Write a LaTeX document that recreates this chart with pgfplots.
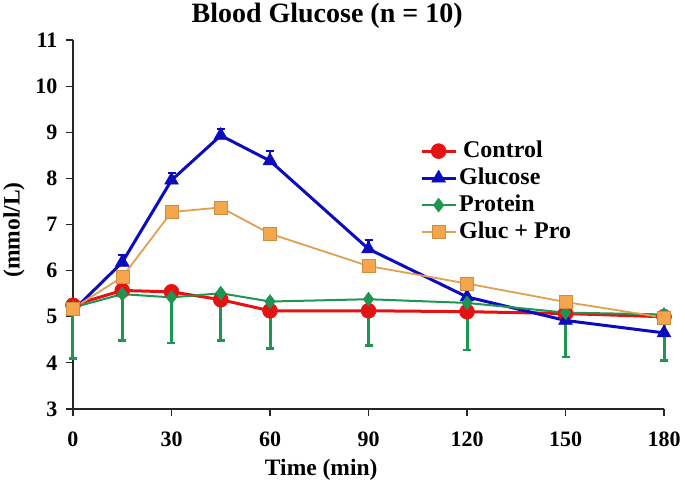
\documentclass[border=0pt]{standalone}
\usepackage{fontspec}
\setmainfont{Liberation Serif}
\usepackage{pgfplots}
\pgfplotsset{compat=1.18}
\usepackage{pgfplotstable}

\definecolor{ctrlred}{RGB}{228,18,18}
\definecolor{glublue}{RGB}{12,12,190}
\definecolor{protgreen}{RGB}{30,150,82}
\definecolor{mixorange}{RGB}{245,165,75}
\definecolor{mixline}{RGB}{225,160,80}

% time (min), mean (mmol/L), error
\pgfplotstableread{
x y
0 5.25
15 5.57
30 5.54
45 5.37
60 5.13
90 5.13
120 5.11
150 5.07
180 5.00
}\control
\pgfplotstableread{
x y ep
0 5.13 0
15 6.18 0.15
30 7.96 0.16
45 8.93 0.15
60 8.38 0.22
90 6.47 0.20
120 5.43 0
150 4.92 0
180 4.65 0
}\glucose
\pgfplotstableread{
x y em
0 5.20 1.10
15 5.49 1.00
30 5.42 0.99
45 5.51 1.02
60 5.33 1.02
90 5.38 1.00
120 5.30 1.02
150 5.09 0.96
180 5.05 1.00
}\protein
\pgfplotstableread{
x y
0 5.18
15 5.86
30 7.27
45 7.37
60 6.80
90 6.10
120 5.72
150 5.32
180 4.98
}\glucpro

\begin{document}
\begin{tikzpicture}
\begin{axis}[
    scale only axis,
    width=591pt, height=369pt,
    xmin=0, xmax=180, ymin=3, ymax=11,
    xtick={0,30,...,180},
    ytick={3,4,...,11},
    axis lines=left,
    axis line style={-, line width=1.2pt, black!85},
    tick style={line width=1.2pt, black!85},
    major tick length=7pt,
    tick align=outside,
    clip=false,
    /pgf/number format/assume math mode=true,
    tick label style={font=\fontsize{22}{22}\selectfont\bfseries},
    every x tick label/.append style={yshift=-12pt},
    every y tick label/.append style={xshift=-5pt},
    title={Blood Glucose (n = 10)},
    title style={font=\fontsize{28}{28}\selectfont\bfseries,
        at={(axis description cs:0.43,1.03)}, anchor=base},
    xlabel={Time (min)},
    xlabel style={font=\fontsize{23.5}{24}\selectfont\bfseries,
        at={(axis description cs:0.42,-0.179)}, anchor=base},
    ylabel={(mmol/L)},
    ylabel style={font=\fontsize{23.5}{24}\selectfont\bfseries,
        at={(axis description cs:-0.1,0.485)}, anchor=center, rotate=0},
    legend style={draw=none, fill=none, inner sep=0pt,
        at={(axis description cs:0.587,0.736)}, anchor=north west,
        font=\fontsize{24}{24}\selectfont\bfseries,
        nodes={text height=17.5pt, text depth=5.5pt, inner sep=2pt},
        row sep=0pt},
    legend cell align=left,
    legend image code/.code={
        \draw[mark repeat=2, mark phase=2] plot coordinates {(0pt,0pt) (17pt,0pt) (34pt,0pt)};
    },
]
\addplot[color=ctrlred, line width=3pt, mark=*, mark size=7.5pt,
    mark options={fill=ctrlred, line width=0.5pt}]
    table[x=x, y=y] {\control};
\addlegendentry{\,Control}

\addplot[color=glublue, line width=3pt, mark=triangle*, mark size=8pt,
    mark options={fill=glublue, line width=0.5pt},
    error bars/.cd, y dir=plus, y explicit,
    error bar style={line width=2.5pt, glublue},
    error mark options={rotate=90, mark size=4pt, line width=2pt, glublue}]
    table[x=x, y=y, y error=ep] {\glucose};
\addlegendentry{Glucose}

\addplot[color=protgreen, line width=2pt, mark=diamond*, mark size=7pt,
    mark options={fill=protgreen, line width=0.5pt},
    error bars/.cd, y dir=minus, y explicit,
    error bar style={line width=3pt, protgreen},
    error mark options={rotate=90, mark size=4pt, line width=2.5pt, protgreen}]
    table[x=x, y=y, y error=em] {\protein};
\addlegendentry{Protein}

\addplot[color=mixline, line width=1.8pt, mark=square*, mark size=6.5pt,
    mark options={fill=mixorange, draw=mixorange!85!black, line width=0.5pt}]
    table[x=x, y=y] {\glucpro};
\addlegendentry{Gluc + Pro}
\end{axis}
\pgfresetboundingbox
\path[use as bounding box] ([shift={(-73pt,-74pt)}]current axis.south west) rectangle ++(685pt,483pt);
\end{tikzpicture}
\end{document}
